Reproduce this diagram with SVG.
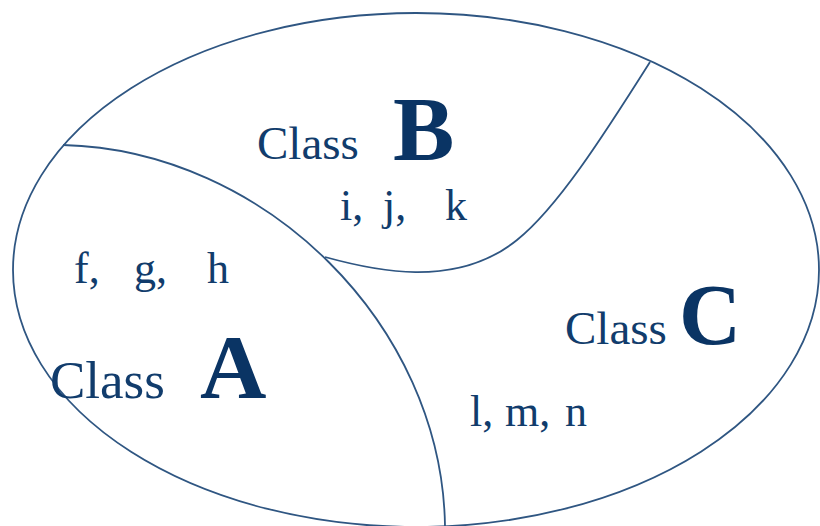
<svg xmlns="http://www.w3.org/2000/svg" width="820" height="526" viewBox="0 0 820 526">
  <style>
    .line { fill: none; stroke: #2f5682; stroke-width: 1.8; }
    .lbl { font-family: "Liberation Serif", "Times New Roman", serif; fill: #113c6c; }
    .cls { font-size: 47px; }
    .big { font-weight: bold; font-size: 92px; fill: #0a3464; }
    .items { font-size: 44px; }
  </style>
  <rect width="820" height="526" fill="#ffffff"/>
  <g id="boundaries">
    <ellipse class="line" cx="416" cy="270" rx="403" ry="257"/>
    <path class="line" d="M63,145 C265,150 442,325 445,526"/>
    <path class="line" d="M325,257 C372,270 455,290 517,240 C557,208 602,138 650,62"/>
  </g>
  <g id="classB">
    <text class="lbl cls" x="257" y="159">Class</text>
    <text class="lbl big" x="393" y="160">B</text>
    <text class="lbl items" y="220"><tspan x="340">i,</tspan><tspan x="383">j,</tspan><tspan x="445">k</tspan></text>
  </g>
  <g id="classA">
    <text class="lbl items" y="283"><tspan x="74">f,</tspan><tspan x="134">g,</tspan><tspan x="207">h</tspan></text>
    <text class="lbl cls" x="50" y="398" style="font-size:53px">Class</text>
    <text class="lbl big" x="200" y="398">A</text>
  </g>
  <g id="classC">
    <text class="lbl cls" x="565" y="344">Class</text>
    <text class="lbl big" x="679" y="344" style="font-size:86px">C</text>
    <text class="lbl items" y="426"><tspan x="470">l,</tspan><tspan x="505">m,</tspan><tspan x="565">n</tspan></text>
  </g>
</svg>
